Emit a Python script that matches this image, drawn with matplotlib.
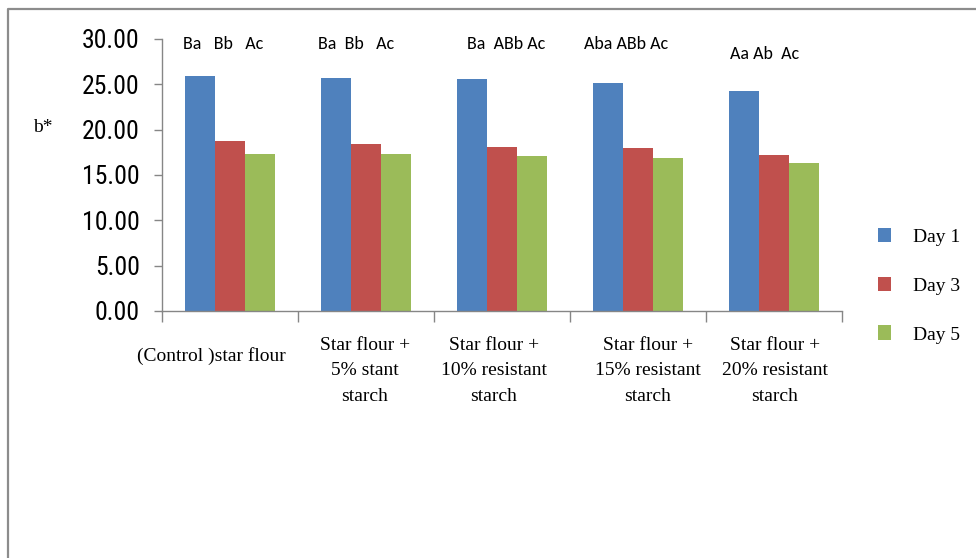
import matplotlib
matplotlib.use("Agg")
import matplotlib.pyplot as plt
import numpy as np
from matplotlib import font_manager
from matplotlib.lines import Line2D
from matplotlib.patches import Patch
from matplotlib.transforms import ScaledTranslation

# ---- data -------------------------------------------------------------
categories = [
    "(Control )star flour",
    "Star flour +\n5% stant\nstarch",
    "Star flour +\n10% resistant\nstarch",
    "Star flour +\n15% resistant\nstarch",
    "Star flour +\n20% resistant\nstarch",
]
series_names = ["Day 1", "Day 3", "Day 5"]
day1 = [25.95, 25.65, 25.55, 25.10, 24.30]
day3 = [18.75, 18.38, 18.08, 17.93, 17.25]
day5 = [17.28, 17.28, 17.12, 16.87, 16.28]
letters = ["Ba   Bb   Ac", "Ba  Bb   Ac", "Ba  ABb Ac", "Aba ABb Ac", "Aa Ab  Ac"]
letter_y = [29.4, 29.4, 29.4, 29.4, 28.3]
y_ticks = [0, 5, 10, 15, 20, 25, 30]
y_label = "b*"

colors = ["#4F81BD", "#C0504D", "#9BBB59"]
axis_gray = "#868686"

_available = {f.name for f in font_manager.fontManager.ttflist}


def pick(*names):
    for n in names:
        if n in _available:
            return n
    return "DejaVu Sans"


tick_font = pick("Liberation Sans Narrow", "Roboto Condensed", "Arimo", "Roboto")
letter_font = pick("Carlito", "Liberation Sans", "Lato")
serif = pick("Liberation Serif", "Tinos", "DejaVu Serif")
tick_size = 18.5 if tick_font in ("Liberation Sans Narrow", "Roboto Condensed") else 17
letter_size = 13 if letter_font == "Carlito" else 11.5

W, H, DPI = 976, 558, 100
fig = plt.figure(figsize=(W / DPI, H / DPI), dpi=DPI)
ax = fig.add_axes([162 / W, 1 - 311 / H, 680 / W, 272 / H])

x = np.arange(len(categories))
bw = 0.22
for i, vals in enumerate([day1, day3, day5]):
    ax.bar(x + (i - 1) * bw, vals, width=bw, color=colors[i],
           label=series_names[i], linewidth=0, zorder=2)

ax.set_xlim(-0.5, len(categories) - 0.5)
ax.set_ylim(0, 30)
ax.set_yticks(y_ticks)
ax.set_yticklabels([f"{v:.2f}" for v in y_ticks], fontfamily=tick_font, fontsize=tick_size)
ax.tick_params(axis="y", length=5.5, width=1, color=axis_gray, pad=10.5)

# category labels under the groups, ticks on the group boundaries
ax.set_xticks(x)
ax.set_xticklabels(categories, fontfamily=serif, fontsize=14, linespacing=1.62)
ax.tick_params(axis="x", which="major", length=0, pad=19)
ax.set_xticks(np.arange(len(categories) + 1) - 0.5, minor=True)
ax.tick_params(axis="x", which="minor", length=7.7, width=1, color=axis_gray, direction="out")

label_shift_px = [(-19, -10), (-1, 0), (-8, 0), (10, 0), (1, 0)]
for lab, (dx, dy) in zip(ax.get_xticklabels(), label_shift_px):
    lab.set_transform(lab.get_transform() + ScaledTranslation(dx / DPI, dy / DPI, fig.dpi_scale_trans))

for side in ["top", "right"]:
    ax.spines[side].set_visible(False)
for side in ["left", "bottom"]:
    ax.spines[side].set_color(axis_gray)
    ax.spines[side].set_linewidth(1)

# significance letters above each group
letter_dx_px = [-7, -10, 4, -12, -9]
for xi, txt, yy, dx in zip(x, letters, letter_y, letter_dx_px):
    ax.annotate(txt, xy=(xi, yy), xytext=(dx * 72 / DPI, 0), textcoords="offset points",
                ha="center", va="center", fontfamily=letter_font, fontsize=letter_size,
                annotation_clip=False)

fig.text(43 / W, 1 - 128 / H, y_label, ha="center", va="center",
         fontfamily=serif, fontsize=14)

handles = [Patch(facecolor=c, edgecolor="none") for c in colors]
fig.legend(handles, series_names, loc="upper left",
           bbox_to_anchor=(878 / W, 1 - 228 / H), frameon=False,
           prop={"family": serif, "size": 14}, borderpad=0, borderaxespad=0,
           handlelength=0.67, handleheight=0.77, handletextpad=1.13,
           labelspacing=1.58)

# outer frame of the chart area
fig.add_artist(Line2D([8 / W, 8 / W, 1.0], [0.0, 1 - 9 / H, 1 - 9 / H],
                      transform=fig.transFigure, color="#8c8c8c", linewidth=1.6))

fig.savefig("out.png", dpi=DPI)
